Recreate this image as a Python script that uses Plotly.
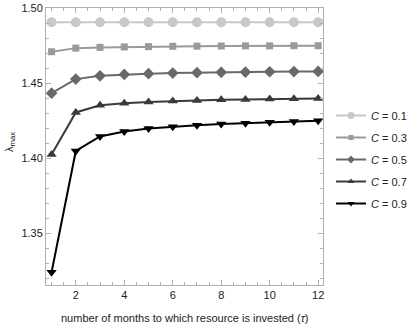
import plotly.graph_objects as go

tau = [1, 2, 3, 4, 5, 6, 7, 8, 9, 10, 11, 12]
c_labels = ["0.1", "0.3", "0.5", "0.7", "0.9"]
lam_c01 = [1.4905] * 12
lam_c03 = [1.4709, 1.4733, 1.4738, 1.4741, 1.4743, 1.4745, 1.4746, 1.4747, 1.4748, 1.4748, 1.4749, 1.4749]
lam_c05 = [1.4433, 1.4527, 1.4549, 1.4558, 1.4563, 1.4567, 1.4570, 1.4572, 1.4574, 1.4576, 1.4577, 1.4578]
lam_c07 = [1.4025, 1.4305, 1.4353, 1.4367, 1.4375, 1.4381, 1.4385, 1.4389, 1.4392, 1.4394, 1.4396, 1.4398]
lam_c09 = [1.3242, 1.4049, 1.4145, 1.4178, 1.4198, 1.4210, 1.4220, 1.4228, 1.4234, 1.4240, 1.4245, 1.4249]
series = [lam_c01, lam_c03, lam_c05, lam_c07, lam_c09]
colors = ["#c8c8c8", "#9a9a9a", "#696969", "#3a3a3a", "#000000"]
symbols = ["circle", "square", "diamond", "triangle-up", "triangle-down"]
sizes = [10, 7, 9, 9, 9]
leg_sizes = [7, 5, 6, 6, 6]

FONT = "Liberation Sans, Arial"
fig = go.Figure()
for i, (lab, ys) in enumerate(zip(c_labels, series)):
    fig.add_trace(go.Scatter(
        x=tau, y=ys, mode="lines+markers", showlegend=False,
        name=f"<i>C</i> = {lab}", legendgroup=f"g{i}",
        line=dict(color=colors[i], width=2),
        marker=dict(symbol=symbols[i], size=sizes[i], color=colors[i]),
    ))
for i, lab in enumerate(c_labels):
    fig.add_trace(go.Scatter(
        x=[None], y=[None], mode="lines+markers", showlegend=True,
        name=f"<i>C</i> = {lab}", legendgroup=f"g{i}",
        line=dict(color=colors[i], width=2),
        marker=dict(symbol=symbols[i], size=leg_sizes[i], color=colors[i]),
    ))

axis_common = dict(
    showline=True, linecolor="#b0b0b0", linewidth=1, mirror="ticks",
    ticks="inside", ticklen=5, tickcolor="#b0b0b0", showgrid=False, zeroline=False,
    automargin=False,
    tickfont=dict(family=FONT, size=11, color="#222"),
)
fig.update_xaxes(range=[0.77, 12.2], tickvals=[2, 4, 6, 8, 10, 12],
                 minor=dict(ticks="inside", ticklen=3, tickcolor="#b0b0b0", dtick=0.5, tick0=0),
                 **axis_common)
fig.update_yaxes(range=[1.3157, 1.5], tickvals=[1.35, 1.40, 1.45, 1.50], ticktext=["1.35", "1.40", "1.45", "1.50"],
                 minor=dict(ticks="inside", ticklen=3, tickcolor="#b0b0b0", dtick=0.01, tick0=1.3),
                 **axis_common)
W, H = 407, 327
L, R, T, B = 46, 84, 8, 42
pw, ph = W - L - R, H - T - B
fig.add_annotation(text="number of months to which resource is invested (<i>τ</i>)",
                   xref="paper", yref="paper", x=(184 - L) / pw, y=-(318 - (H - B)) / ph,
                   showarrow=False, xanchor="center", yanchor="middle",
                   font=dict(family=FONT, size=11, color="#222"))
fig.add_annotation(text="λ<sub>max</sub>", textangle=-90,
                   xref="paper", yref="paper", x=-(L - 10) / pw, y=((H - B) - 142) / ph,
                   showarrow=False, xanchor="center", yanchor="middle",
                   font=dict(family=FONT, size=11, color="#222"))
fig.update_layout(
    width=W, height=H, margin=dict(l=L, r=R, t=T, b=B, autoexpand=False),
    paper_bgcolor="white", plot_bgcolor="white", showlegend=True,
    legend=dict(x=(331 - L) / pw, y=((H - B) - 101) / ph, xanchor="left", yanchor="top",
                tracegroupgap=3, itemwidth=30,
                font=dict(family=FONT, size=11, color="#222"),
                bgcolor="rgba(0,0,0,0)"),
)
fig.write_html("out.html", config={"displayModeBar": False},
               post_script="document.body.style.margin='0';")
